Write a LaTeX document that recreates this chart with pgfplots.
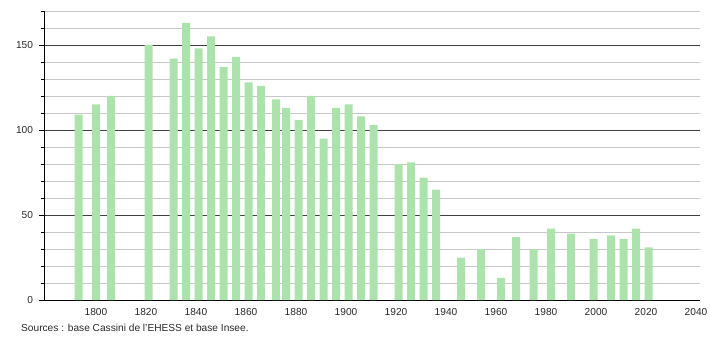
\documentclass[border=0pt]{standalone}
\usepackage{pgfplots}
\pgfplotsset{compat=1.18}
\usepackage{fontspec}
\setmainfont{Liberation Sans}
\definecolor{barg}{RGB}{172,226,172}
\definecolor{txt}{RGB}{40,40,40}
\begin{document}
\begin{tikzpicture}[x=1bp,y=1bp]
\useasboundingbox (-44,-40) rectangle (666,300);
\begin{axis}[
  at={(0,0)}, anchor=south west,
  scale only axis, width=656bp, height=289bp,
  xmin=1779.2, xmax=2041.6, ymin=0, ymax=170,
  axis x line=bottom, axis y line=left,
  axis line style={black, line width=0.8pt, -},
  xtick={1800,1820,...,2040},
  ytick={0,50,100,150},
  minor ytick={10,20,30,40,60,70,80,90,110,120,130,140,160,170},
  x tick label style={/pgf/number format/1000 sep={}, font=\fontsize{10.2}{12}\selectfont, text=txt},
  y tick label style={font=\fontsize{10.2}{12}\selectfont, text=txt, xshift=-2.5bp},
  /pgf/number format/assume math mode=true,
  xtick style={draw=none},
  ytick style={black, line width=0.6pt},
  major tick length=5bp, minor tick length=3bp,
  tick align=outside,
  ymajorgrids, yminorgrids,
  major grid style={black!75, line width=0.7pt},
  minor grid style={black!22, line width=0.7pt},
  ybar, bar width=8bp, bar shift=0pt,
  clip=false,
]
\addplot[fill=barg, draw=none] coordinates {
(1793,109) (1800,115) (1806,120) (1821,150) (1831,142) (1836,163) (1841,148)
(1846,155) (1851,137) (1856,143) (1861,128) (1866,126) (1872,118) (1876,113)
(1881,106) (1886,120) (1891,95) (1896,113) (1901,115) (1906,108) (1911,103)
(1921,80) (1926,81) (1931,72) (1936,65) (1946,25) (1954,30) (1962,13)
(1968,37) (1975,30) (1982,42) (1990,39) (1999,36) (2006,38) (2011,36)
(2016,42) (2021,31)
};
\end{axis}
\node[anchor=base west, text=txt, font=\fontsize{10.2}{12}\selectfont, inner sep=0pt] at (-23,-31) {Sources : base Cassini de l'EHESS et base Insee.};
\end{tikzpicture}
\end{document}
